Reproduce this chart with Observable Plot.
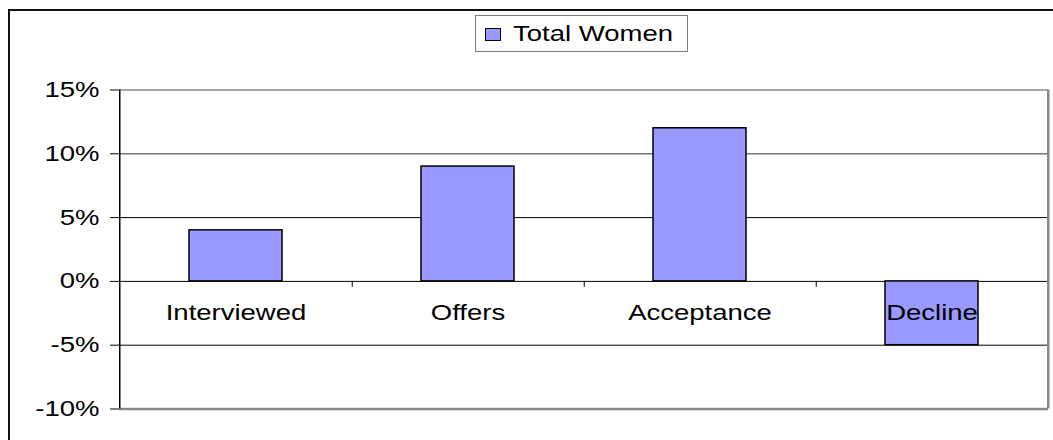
<!DOCTYPE html>
<html>
<head>
<meta charset="utf-8">
<script src="https://cdn.jsdelivr.net/npm/d3@7"></script>
<script src="https://cdn.jsdelivr.net/npm/@observablehq/plot@0.6"></script>
<style>
  html, body { margin: 0; padding: 0; background: #fff; overflow: hidden; width: 1053px; height: 440px; }
  #wrap { position: relative; width: 1053px; height: 440px; overflow: hidden; }
  #border { position: absolute; left: 8px; top: 9px; width: 1100px; height: 500px; border: 2px solid #111; box-sizing: border-box; }
  #chart { position: absolute; left: 0; top: 0; }
  #legend { position: absolute; left: 475px; top: 15px; width: 213px; height: 37px; border: 1px solid #7a7a7a; box-sizing: border-box; background: #fff;
            font-family: "Liberation Sans", Arial, sans-serif; font-size: 22px; color: #000; }
  #legend .sw { position: absolute; left: 9px; top: 12px; width: 16px; height: 13px; background: #9999FF; border: 1px solid #000; box-sizing: border-box; }
  #legend .lbl { position: absolute; left: 37px; top: 6px; line-height: 24px; white-space: nowrap; transform: scaleX(1.25); transform-origin: 0 50%; }
</style>
</head>
<body>
<div id="wrap">
  <div id="chart"></div>
  <div id="border"></div>
  <div id="legend"><div class="sw"></div><div class="lbl"></div></div>
</div>
<script>
// Data
const categories = ["Interviewed", "Offers", "Acceptance", "Decline"];
const values = [0.04, 0.09, 0.12, -0.05];
const seriesName = "Total Women";
const yTicks = [-0.10, -0.05, 0, 0.05, 0.10, 0.15];

const data = categories.map((c, i) => ({category: c, value: values[i]}));

const W = 1053, H = 440;
const ml = 118, mr = 5, mt = 89.5, mb = 31.5;
const step = (W - ml - mr) / categories.length;
const font = "Liberation Sans, Arial, sans-serif";
const pct = d => Math.round(d * 100) + "%";

const chart = Plot.plot({
  width: W,
  height: H,
  marginLeft: ml,
  marginRight: mr,
  marginTop: mt,
  marginBottom: mb,
  style: {fontFamily: font, fontSize: "22px", color: "#000", background: "transparent", overflow: "visible"},
  x: {domain: categories, paddingInner: 0.6, paddingOuter: 0.3, axis: null},
  y: {domain: [-0.10, 0.15], axis: null},
  marks: [
    // gridlines
    Plot.ruleY(yTicks.filter(d => d > 0.07 && d < 0.14), {y: d => d, stroke: "#777", strokeWidth: 1.5}),
    Plot.ruleY(yTicks.filter(d => d > -0.07 && d < 0.07), {y: d => d, stroke: "#000", strokeWidth: 1}),
    Plot.ruleY([yTicks[yTicks.length - 1]], {y: d => d, stroke: "#888", strokeWidth: 1.5}),
    Plot.ruleY([yTicks[0]], {y: d => d, stroke: "#888", strokeWidth: 2.5}),
    // right frame
    Plot.ruleX([categories[categories.length - 1]], {x: d => d, dx: step / 2, stroke: "#888", strokeWidth: 2.5}),
    // bars
    Plot.barY(data, {x: "category", y: "value", fill: "#9999FF", stroke: "#000", strokeWidth: 1.5}),
    // category separator ticks on the zero line
    Plot.ruleX(categories.slice(0, -1), {x: d => d, dx: step / 2, y1: 0, y2: 0, insetBottom: -6, stroke: "#000", strokeWidth: 1}),
    // left axis line
    Plot.ruleX([categories[0]], {x: d => d, dx: -step / 2, stroke: "#000", strokeWidth: 1.5}),
    // y axis ticks and labels
    Plot.axisY(yTicks, {label: null, tickFormat: pct, tickSize: 8, tickPadding: 11, fontSize: 22, stroke: "#000", fill: "#000"}),
    // category labels
    Plot.text(data, {x: "category", y: 0, text: "category", dy: 32, fontSize: 22, fill: "#000", lineAnchor: "middle"})
  ]
});

document.getElementById("chart").appendChild(chart);
document.querySelector("#legend .lbl").textContent = seriesName;

// Horizontal stretch of text to match the reference's wide rendering
chart.querySelectorAll("text").forEach(t => {
  const len = t.getComputedTextLength();
  if (len > 0) {
    t.setAttribute("textLength", (len * 1.25).toFixed(1));
    t.setAttribute("lengthAdjust", "spacingAndGlyphs");
  }
});
</script>
</body>
</html>
